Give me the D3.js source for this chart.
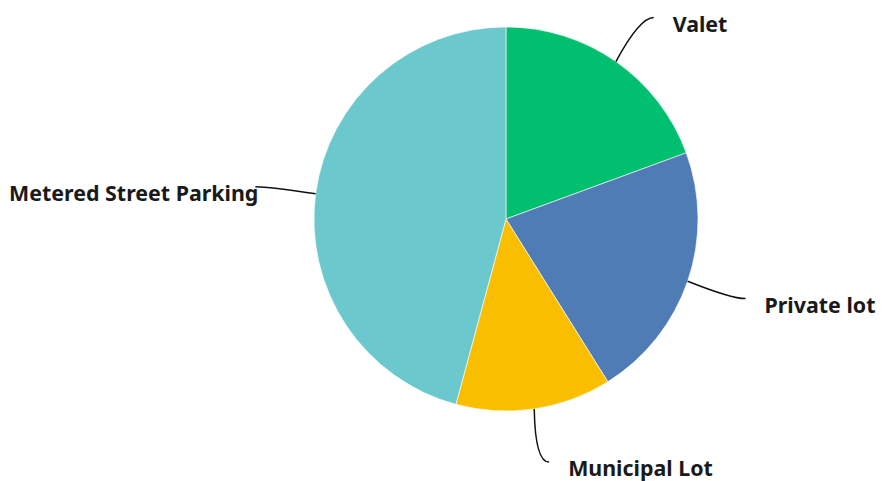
<!DOCTYPE html>
<html>
<head>
<meta charset="utf-8">
<script src="https://cdn.jsdelivr.net/npm/d3@7"></script>
<style>
  html, body { margin: 0; padding: 0; background: #ffffff; }
  svg { display: block; }
</style>
</head>
<body>
<svg id="chart" width="882" height="481"></svg>
<script>
// Share of responses per parking option, clockwise from 12 o'clock
const categories = ['Valet', 'Private lot', 'Municipal Lot', 'Metered Street Parking'];
const values = [19.4, 21.7, 13.1, 45.8];
const colors = ['#00bf6f', '#507cb6', '#f9be00', '#6bc8cd'];

const WIDTH = 882;
const HEIGHT = 481;
const CX = 506;
const CY = 219;
const RADIUS = 192;
const LEADER_R = RADIUS * 1.28;

const root = d3.select('#chart')
  .attr('width', WIDTH)
  .attr('height', HEIGHT);

const data = categories.map((name, i) => ({ name, value: values[i], color: colors[i] }));

const pie = d3.pie()
  .value((d) => d.value)
  .sort(null);

const arc = d3.arc()
  .innerRadius(0)
  .outerRadius(RADIUS);

const arcs = pie(data);

const g = root.append('g')
  .attr('transform', `translate(${CX}, ${CY})`);

g.selectAll('path.slice')
  .data(arcs)
  .enter()
  .append('path')
  .attr('class', 'slice')
  .attr('d', arc)
  .attr('fill', (d) => d.data.color)
  .attr('stroke', '#ffffff')
  .attr('stroke-width', 0.6);

function polar(angle, r) {
  return [Math.sin(angle) * r, -Math.cos(angle) * r];
}

arcs.forEach((d) => {
  const mid = (d.startAngle + d.endAngle) / 2;
  const side = Math.sin(mid) >= 0 ? 1 : -1;
  const start = polar(mid, RADIUS);
  const tip = polar(mid, LEADER_R);
  const end = [tip[0] + side * 7, tip[1]];
  const ctrl = [end[0] - side * 14, end[1]];

  g.append('path')
    .attr('d', `M${start[0]},${start[1]} Q${ctrl[0]},${ctrl[1]} ${end[0]},${end[1]}`)
    .attr('fill', 'none')
    .attr('stroke', '#111111')
    .attr('stroke-width', 1.5);

  g.append('text')
    .attr('x', side > 0 ? end[0] + 19 : end[0] + 3)
    .attr('y', end[1] + 14)
    .attr('text-anchor', side > 0 ? 'start' : 'end')
    .attr('fill', '#1a1a1a')
    .attr('font-size', 21.4)
    .attr('font-weight', 700)
    .attr('font-family', '"Noto Sans", sans-serif')
    .text(d.data.name);
});
</script>
</body>
</html>
